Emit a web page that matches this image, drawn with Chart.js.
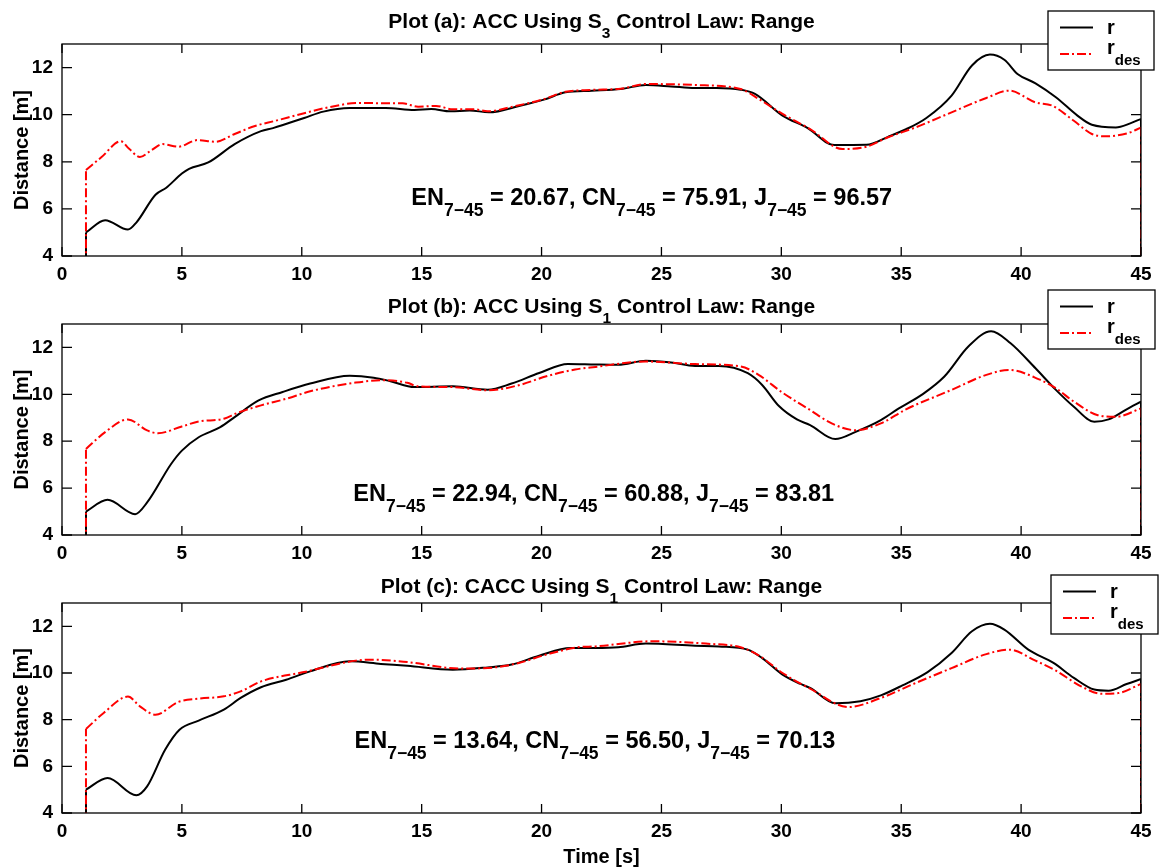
<!DOCTYPE html>
<html>
<head>
<meta charset="utf-8">
<script src="https://cdn.jsdelivr.net/npm/chart.js@4.4.0/dist/chart.umd.min.js"></script>
<style>
  body { margin: 0; background: #fff; }
  #wrap { position: relative; width: 1160px; height: 867px; }
  canvas { position: absolute; left: 0; }
</style>
</head>
<body>
<div id="wrap">
  <canvas id="plotA" width="1160" height="290" style="top:0px"></canvas>
  <canvas id="plotB" width="1160" height="290" style="top:280px"></canvas>
  <canvas id="plotC" width="1160" height="309" style="top:558px"></canvas>
</div>
<script>
// ---------------------------------------------------------
//   data (time [s], distance [m])
//   signals are 0 before t=1 and after t=45 (clipped by the axis)
// ---------------------------------------------------------
const xTickValues = [0, 5, 10, 15, 20, 25, 30, 35, 40, 45];
const yTickValues = [4, 6, 8, 10, 12];
const offValue = 0;

// plot (a): ACC, S3
const aRTime = [1, 1.8, 2.75, 3.1, 3.9, 4.35, 5, 5.3, 6.1, 7.2, 8.3, 8.8, 10.1, 10.9, 12, 13.5, 14.7, 15.4, 16.2, 17, 17.8, 19.1, 20.1, 21, 22.1, 23.3, 24.35, 25.4, 26.4, 27.3, 28.3, 28.9, 30.05, 31.1, 32.2, 33.55, 34.45, 35.2, 36.05, 37.1, 37.95, 38.7, 39.3, 39.85, 40.6, 41.45, 42.35, 42.95, 43.95, 44.55, 45];
const aR     = [5.0, 5.52, 5.12, 5.42, 6.6, 6.9, 7.5, 7.7, 7.97, 8.75, 9.3, 9.43, 9.86, 10.13, 10.28, 10.28, 10.2, 10.24, 10.14, 10.18, 10.1, 10.38, 10.64, 10.95, 11.02, 11.09, 11.26, 11.2, 11.13, 11.13, 11.06, 10.88, 9.96, 9.43, 8.71, 8.72, 9.06, 9.38, 9.86, 10.81, 12.09, 12.55, 12.33, 11.73, 11.33, 10.74, 9.96, 9.57, 9.46, 9.63, 9.82];
const aDesTime = [1, 1.65, 2.45, 2.8, 3.25, 3.7, 4.2, 4.85, 5.65, 6.4, 7.2, 8.05, 8.9, 10.1, 11.1, 12.4, 13.7, 14.2, 14.85, 15.6, 16.3, 17.2, 17.75, 18.8, 20.1, 21.0, 22.1, 23.3, 24.35, 26.4, 28.3, 29.05, 30.05, 31.2, 32.55, 33.55, 34.45, 35.6, 37.1, 38.55, 39.5, 40.6, 41.3, 42.2, 42.95, 43.5, 44.4, 45];
const aDes     = [7.65, 8.2, 8.87, 8.55, 8.2, 8.47, 8.75, 8.64, 8.92, 8.85, 9.18, 9.52, 9.74, 10.06, 10.31, 10.5, 10.48, 10.48, 10.34, 10.37, 10.23, 10.23, 10.14, 10.34, 10.66, 10.97, 11.05, 11.1, 11.3, 11.26, 11.09, 10.67, 10.03, 9.39, 8.54, 8.64, 9.04, 9.46, 10.1, 10.71, 11.02, 10.52, 10.38, 9.74, 9.18, 9.08, 9.2, 9.45];

// plot (b): ACC, S1
const bRTime = [1, 1.9, 3.05, 3.55, 4.55, 5, 5.7, 6.6, 7.2, 8.2, 9.2, 10.35, 12, 13, 13.7, 14.7, 16.3, 17.75, 18.75, 19.9, 21.1, 22.25, 23.2, 24.35, 25.4, 26.4, 27.4, 28.6, 29.2, 29.9, 30.65, 31.2, 32.25, 33.1, 34.15, 34.9, 35.9, 36.8, 37.8, 38.75, 39.55, 40.6, 41.45, 42.2, 43.05, 43.65, 44.4, 45];
const bR     = [5.0, 5.5, 4.89, 5.39, 7.03, 7.6, 8.17, 8.6, 9.03, 9.74, 10.1, 10.46, 10.79, 10.71, 10.56, 10.31, 10.34, 10.2, 10.46, 10.91, 11.29, 11.27, 11.26, 11.43, 11.36, 11.21, 11.21, 10.9, 10.4, 9.5, 8.93, 8.69, 8.09, 8.4, 8.9, 9.4, 10.01, 10.76, 12.04, 12.69, 12.19, 11.11, 10.19, 9.47, 8.83, 8.93, 9.36, 9.69];
const bDesTime = [1, 1.8, 2.75, 3.55, 4.0, 5, 5.7, 6.75, 7.3, 8.3, 9.35, 10.35, 12.25, 13.4, 14.4, 14.85, 16.3, 17.75, 19.05, 20.2, 21.4, 22.25, 24.35, 26.4, 28.3, 29.05, 30.05, 31.2, 32.1, 33.1, 34.15, 35.2, 37.1, 38.55, 39.5, 40.75, 41.45, 42.2, 43.2, 43.95, 45];
const bDes     = [7.67, 8.39, 8.93, 8.46, 8.34, 8.63, 8.84, 8.96, 9.2, 9.53, 9.81, 10.13, 10.5, 10.6, 10.49, 10.34, 10.31, 10.17, 10.39, 10.77, 11.06, 11.17, 11.4, 11.29, 11.19, 10.83, 10.07, 9.33, 8.76, 8.47, 8.76, 9.36, 10.19, 10.83, 11.04, 10.64, 10.26, 9.69, 9.11, 9.04, 9.4];

// plot (c): CACC, S1
const cRTime = [1, 1.9, 3.1, 3.55, 4.3, 4.9, 5.7, 6.75, 7.45, 8.3, 9.35, 10.35, 12, 13.3, 14.4, 16.3, 17.75, 18.75, 19.9, 21.2, 22.25, 23.2, 24.35, 26.4, 27.4, 28.6, 29.2, 30.05, 30.8, 31.2, 32.25, 33.3, 34.15, 35.05, 36.1, 37.1, 37.95, 38.7, 39.3, 40.3, 41.35, 42.2, 43.05, 43.65, 44.4, 45];
const cR     = [5.0, 5.5, 4.76, 5.14, 6.71, 7.57, 7.96, 8.43, 8.93, 9.39, 9.71, 10.07, 10.5, 10.39, 10.31, 10.14, 10.24, 10.36, 10.74, 11.07, 11.07, 11.1, 11.26, 11.17, 11.14, 11.0, 10.64, 9.93, 9.53, 9.36, 8.7, 8.79, 9.04, 9.47, 10.04, 10.86, 11.79, 12.11, 11.86, 11.0, 10.43, 9.79, 9.29, 9.24, 9.53, 9.74];
const cDesTime = [1, 1.75, 2.75, 3.25, 3.9, 4.85, 5.7, 6.75, 7.45, 8.3, 10.1, 12.25, 13, 14.4, 16.6, 18.05, 19.05, 20.2, 21.5, 22.25, 24.65, 26.85, 28.3, 29.05, 30.05, 31.2, 32.8, 34.15, 35.6, 37.1, 38.55, 39.5, 40.6, 41.45, 42.5, 43.35, 44.05, 45];
const cDes     = [7.6, 8.3, 8.99, 8.57, 8.21, 8.76, 8.9, 9.0, 9.21, 9.64, 10.04, 10.53, 10.57, 10.47, 10.19, 10.24, 10.43, 10.79, 11.1, 11.14, 11.36, 11.26, 11.1, 10.76, 10.0, 9.33, 8.54, 8.93, 9.57, 10.21, 10.81, 11.0, 10.53, 10.1, 9.43, 9.11, 9.14, 9.53];

// text
const plotLetters = ['a', 'b', 'c'];
const plotModes = ['ACC', 'ACC', 'CACC'];
const plotLawIndex = ['3', '1', '1'];
const enValues = [20.67, 22.94, 13.64];
const cnValues = [75.91, 60.88, 56.50];
const jValues = [96.57, 83.81, 70.13];

// =========================================================
const FONT = '"Liberation Sans", Arial, Helvetica, sans-serif';

function textWidth(ctx, parts, size, subSize) {
    let w = 0;
    parts.forEach(p => {
        ctx.font = 'bold ' + (p.sub ? subSize : size) + 'px ' + FONT;
        w += ctx.measureText(p.t).width;
    });
    return w;
}

// draws a string with subscript pieces, e.g. EN_{7-45}
function drawRich(ctx, parts, x, y, size, subSize, subDrop, align) {
    let cx = align === 'center' ? x - textWidth(ctx, parts, size, subSize) / 2 : x;
    ctx.textAlign = 'left';
    ctx.textBaseline = 'alphabetic';
    ctx.fillStyle = '#000';
    parts.forEach(p => {
        ctx.font = 'bold ' + (p.sub ? subSize : size) + 'px ' + FONT;
        ctx.fillText(p.t, cx, p.sub ? y + subDrop : y);
        cx += ctx.measureText(p.t).width;
    });
}

const redDash = [9, 3, 2, 3];

// matlab style box, inward ticks, title, legend, annotation
const matlabAxes = {
    id: 'matlabAxes',
    afterDraw(chart, args, o) {
        const ctx = chart.ctx;
        const a = chart.chartArea;
        const xs = chart.scales.x, ys = chart.scales.y;
        ctx.save();
        ctx.strokeStyle = '#000';
        ctx.lineWidth = 1.3;
        ctx.strokeRect(a.left, a.top, a.right - a.left, a.bottom - a.top);
        ctx.beginPath();
        xs.ticks.forEach(t => {
            const px = xs.getPixelForValue(t.value);
            ctx.moveTo(px, a.bottom); ctx.lineTo(px, a.bottom - 9);
            ctx.moveTo(px, a.top); ctx.lineTo(px, a.top + 9);
        });
        ys.ticks.forEach(t => {
            const py = ys.getPixelForValue(t.value);
            ctx.moveTo(a.left, py); ctx.lineTo(a.left + 10, py);
            ctx.moveTo(a.right, py); ctx.lineTo(a.right - 10, py);
        });
        ctx.stroke();

        // title
        drawRich(ctx, o.title, (a.left + a.right) / 2, o.titleY, 21, 15.5, 10, 'center');

        // annotation
        drawRich(ctx, o.note, xs.getPixelForValue(o.noteAt[0]), ys.getPixelForValue(o.noteAt[1]), 23.5, 17.5, 11, 'left');

        // y label
        ctx.save();
        ctx.translate(22, (a.top + a.bottom) / 2);
        ctx.rotate(-Math.PI / 2);
        ctx.font = 'bold 20px ' + FONT;
        ctx.textAlign = 'center';
        ctx.textBaseline = 'middle';
        ctx.fillText('Distance [m]', 0, 0);
        ctx.restore();

        if (o.xLabel) {
            ctx.font = 'bold 20px ' + FONT;
            ctx.textAlign = 'center';
            ctx.textBaseline = 'middle';
            ctx.fillText(o.xLabel, (a.left + a.right) / 2, chart.height - 10);
        }

        // legend
        const L = o.legend;
        ctx.fillStyle = '#fff';
        ctx.fillRect(L.x, L.y, L.w, L.h);
        ctx.strokeRect(L.x, L.y, L.w, L.h);
        ctx.beginPath();
        ctx.lineWidth = 2;
        ctx.moveTo(L.x + 12, L.y + 16.5); ctx.lineTo(L.x + 45, L.y + 16.5);
        ctx.stroke();
        ctx.beginPath();
        ctx.strokeStyle = '#ff0000';
        ctx.setLineDash(redDash);
        ctx.moveTo(L.x + 12, L.y + 43); ctx.lineTo(L.x + 45, L.y + 43);
        ctx.stroke();
        ctx.setLineDash([]);
        drawRich(ctx, [{ t: 'r' }], L.x + 59, L.y + 23, 20, 15, 0, 'left');
        drawRich(ctx, [{ t: 'r' }, { t: 'des', sub: true }], L.x + 59, L.y + 43, 20, 15, 11, 'left');
        ctx.restore();
    }
};

function toPoints(t, v) {
    return t.map((x, i) => ({ x: x, y: v[i] }));
}

// vertical switch-on / switch-off edges of a signal
function edgeSets(t, v, style) {
    const n = t.length - 1;
    return [
        [{ x: t[0], y: offValue }, { x: t[0], y: v[0] }],
        [{ x: t[n], y: v[n] }, { x: t[n], y: offValue }]
    ].map(d => Object.assign({ data: d, pointRadius: 0, tension: 0 }, style));
}

function makePlot(id, k, rTime, r, desTime, des, lay) {
    const title = [
        { t: 'Plot (' + plotLetters[k] + '): ' + plotModes[k] + ' Using S' },
        { t: plotLawIndex[k], sub: true },
        { t: ' Control Law: Range' }
    ];
    const note = [
        { t: 'EN' }, { t: '7\u221245', sub: true }, { t: ' = ' + enValues[k].toFixed(2) + ', CN' },
        { t: '7\u221245', sub: true }, { t: ' = ' + cnValues[k].toFixed(2) + ', J' },
        { t: '7\u221245', sub: true }, { t: ' = ' + jValues[k].toFixed(2) }
    ];
    const tickFont = { family: FONT, size: 19, weight: 'bold' };
    const rStyle = { borderColor: '#000', borderWidth: 2, order: 1 };
    const desStyle = { borderColor: '#ff0000', borderWidth: 2, borderDash: redDash, order: 0 };

    new Chart(document.getElementById(id), {
        type: 'line',
        data: {
            datasets: [
                Object.assign({ label: 'r', data: toPoints(rTime, r), pointRadius: 0, cubicInterpolationMode: 'monotone' }, rStyle),
                Object.assign({ label: 'r_des', data: toPoints(desTime, des), pointRadius: 0, cubicInterpolationMode: 'monotone' }, desStyle)
            ].concat(edgeSets(rTime, r, rStyle), edgeSets(desTime, des, desStyle))
        },
        options: {
            responsive: false,
            animation: false,
            layout: { padding: { left: 0, right: 19, top: lay.top, bottom: 0 } },
            scales: {
                x: {
                    type: 'linear', min: 0, max: 45,
                    grid: { display: false, drawTicks: false },
                    border: { display: false },
                    afterBuildTicks: s => { s.ticks = xTickValues.map(v => ({ value: v })); },
                    afterFit: s => { s.height = lay.xHeight; },
                    ticks: { font: tickFont, color: '#000', padding: 7, maxRotation: 0, autoSkip: false }
                },
                y: {
                    type: 'linear', min: 4, max: 13,
                    grid: { display: false, drawTicks: false },
                    border: { display: false },
                    afterBuildTicks: s => { s.ticks = yTickValues.map(v => ({ value: v })); },
                    afterFit: s => { s.width = 62; },
                    ticks: { font: tickFont, color: '#000', padding: 9 }
                }
            },
            plugins: {
                legend: { display: false },
                tooltip: { enabled: false },
                matlabAxes: {
                    title: title, titleY: lay.titleY,
                    note: note, noteAt: lay.noteAt,
                    legend: lay.legend,
                    xLabel: lay.xLabel
                }
            }
        },
        plugins: [matlabAxes]
    });
}

makePlot('plotA', 0, aRTime, aR, aDesTime, aDes, {
    top: 44, xHeight: 34, titleY: 28, noteAt: [14.57, 6.16],
    legend: { x: 1048, y: 11, w: 106, h: 59 }
});
makePlot('plotB', 1, bRTime, bR, bDesTime, bDes, {
    top: 44, xHeight: 35, titleY: 33, noteAt: [12.15, 5.45],
    legend: { x: 1048, y: 10, w: 107, h: 59 }
});
makePlot('plotC', 2, cRTime, cR, cDesTime, cDes, {
    top: 45, xHeight: 54, titleY: 35, noteAt: [12.2, 6.78],
    legend: { x: 1051, y: 17, w: 107, h: 59 },
    xLabel: 'Time [s]'
});
</script>
</body>
</html>
